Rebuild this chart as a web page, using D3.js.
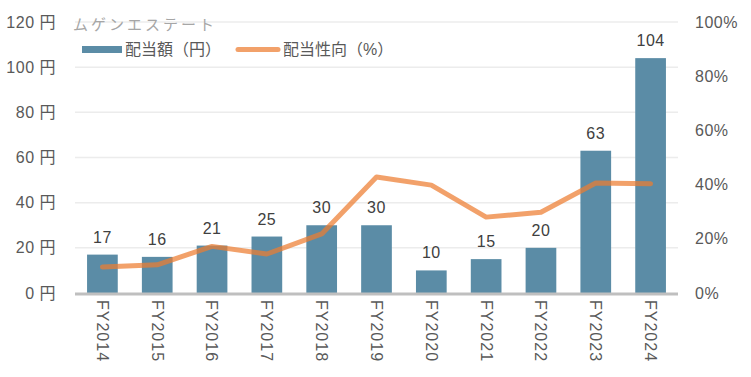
<!DOCTYPE html>
<html><head><meta charset="utf-8">
<script src="https://cdn.jsdelivr.net/npm/d3@7"></script>
<style>body{margin:0;background:#fff}text{font-family:"Liberation Sans","Noto Sans CJK JP",sans-serif}</style>
</head><body><svg id="c" width="751" height="377"></svg>
<script>
const categories=["FY2014","FY2015","FY2016","FY2017","FY2018","FY2019","FY2020","FY2021","FY2022","FY2023","FY2024"];
const dividends=[17,16,21,25,30,30,10,15,20,63,104];
const payoutRatio=[9.6,10.4,17.2,14.4,21.8,42.8,39.8,28,29.8,40.6,40.3];
const leftTicks=[0,20,40,60,80,100,120];
const rightTicks=[0,20,40,60,80,100];
const title="ムゲンエステート";
const legendLabels=["配当額（円）","配当性向（%）"];

const svg=d3.select("#c");
const L=75,R=678,T=22,B=293;
const x=d3.scaleBand().domain(categories).range([L,R]).paddingInner(0.44).paddingOuter(0.22);
const y=d3.scaleLinear().domain([0,120]).range([B,T]);
const y2=d3.scaleLinear().domain([0,100]).range([B,T]);
const txt="#595959";

svg.append("g").selectAll("line").data(leftTicks.filter(d=>d>0)).join("line")
  .attr("x1",L).attr("x2",R).attr("y1",d=>y(d)).attr("y2",d=>y(d))
  .attr("stroke","#ececec").attr("stroke-width",1.5);

svg.append("g").selectAll("text").data(leftTicks).join("text")
  .attr("x",56).attr("y",d=>y(d)).attr("dy","0.35em").attr("text-anchor","end")
  .attr("fill",txt).style("font-size","16px").style("letter-spacing","0.5px").text(d=>d+" 円");
svg.append("g").selectAll("text").data(rightTicks).join("text")
  .attr("x",695).attr("y",d=>y2(d)).attr("dy","0.35em").attr("text-anchor","start")
  .attr("fill",txt).style("font-size","16px").style("letter-spacing","0.5px").text(d=>d+"%");

svg.append("g").selectAll("rect").data(dividends).join("rect")
  .attr("x",(d,i)=>x(categories[i])).attr("width",x.bandwidth())
  .attr("y",d=>y(d)).attr("height",d=>B-y(d)).attr("fill","#5b8ca6");

svg.append("g").selectAll("text").data(dividends).join("text")
  .attr("x",(d,i)=>x(categories[i])+x.bandwidth()/2).attr("y",d=>y(d)-12)
  .attr("text-anchor","middle").attr("fill","#404040").style("font-size","16px").style("letter-spacing","0.5px").text(d=>d);

svg.append("line").attr("x1",L).attr("x2",R).attr("y1",B+1).attr("y2",B+1)
  .attr("stroke","#bfbfbf").attr("stroke-width",3);

svg.append("g").selectAll("text").data(categories).join("text")
  .attr("transform",d=>`translate(${x(d)+x.bandwidth()/2},300) rotate(90)`)
  .attr("dy","0.35em").attr("text-anchor","start").attr("fill",txt).style("font-size","16px").style("letter-spacing","1px").text(d=>d);

const line=d3.line().x((d,i)=>x(categories[i])+x.bandwidth()/2).y(d=>y2(d));
svg.append("path").datum(payoutRatio).attr("d",line).attr("fill","none")
  .attr("stroke","#ed7d31").attr("stroke-opacity",0.72).attr("stroke-width",5)
  .attr("stroke-linecap","round").attr("stroke-linejoin","round");

svg.append("text").attr("x",73).attr("y",30).attr("fill","#a6a6a6").style("font-size","15px").style("letter-spacing","3px").text(title);
svg.append("rect").attr("x",82).attr("y",46).attr("width",40).attr("height",7).attr("fill","#5b8ca6");
svg.append("text").attr("x",125).attr("y",49).attr("dy","0.35em").attr("fill",txt).style("font-size","16px").text(legendLabels[0]);
svg.append("line").attr("x1",238).attr("x2",278).attr("y1",49.5).attr("y2",49.5)
  .attr("stroke","#ed7d31").attr("stroke-opacity",0.72).attr("stroke-width",5).attr("stroke-linecap","round");
svg.append("text").attr("x",283).attr("y",49).attr("dy","0.35em").attr("fill",txt).style("font-size","16px").text(legendLabels[1]);
</script></body></html>
